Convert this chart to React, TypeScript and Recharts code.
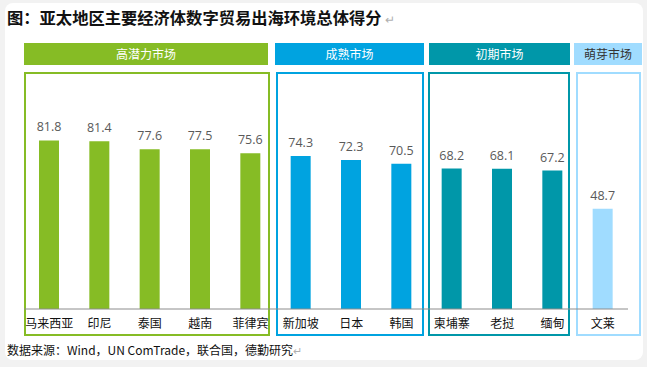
import { Bar, BarChart, Cell, LabelList, XAxis, YAxis } from 'recharts'

const countries = ['马来西亚', '印尼', '泰国', '越南', '菲律宾', '新加坡', '日本', '韩国', '柬埔寨', '老挝', '缅甸', '文莱']
const scores = [81.8, 81.4, 77.6, 77.5, 75.6, 74.3, 72.3, 70.5, 68.2, 68.1, 67.2, 48.7]
const groupNames = ['高潜力市场', '成熟市场', '初期市场', '萌芽市场']
const groupOf = [0, 0, 0, 0, 0, 1, 1, 1, 2, 2, 2, 3]

const groupColors = ['#86BC25', '#00A3E0', '#0097A9', '#A0DCFF']
const headerText = ['#ffffff', '#ffffff', '#ffffff', '#333333']
// header strip and outline box extents (px)
const headerBox = [
  [24, 268],
  [275, 424],
  [429, 570],
  [574, 642],
]
const outlineBox = [
  [24, 270],
  [276, 424],
  [428, 570],
  [576, 641],
]

const data = countries.map((name, i) => ({ name, score: scores[i], group: groupOf[i] }))

const cjk = '"Noto Sans CJK SC", "Noto Sans", sans-serif'

export default function App() {
  return (
    <div
      style={{
        position: 'fixed',
        left: 0,
        top: 0,
        width: 647,
        height: 367,
        background: '#f2f2f2',
        fontFamily: cjk,
      }}
    >
      <div
        style={{
          position: 'absolute',
          left: 5,
          top: 3,
          width: 638,
          height: 357,
          background: '#ffffff',
          borderRadius: 8,
        }}
      />
      <div
        style={{
          position: 'absolute',
          left: 7,
          top: 5,
          fontSize: 16.3,
          fontWeight: 700,
          color: '#111',
          whiteSpace: 'nowrap',
          lineHeight: '24px',
        }}
      >
        图：亚太地区主要经济体数字贸易出海环境总体得分
        <span style={{ fontWeight: 400, color: '#b0b0b0', fontSize: 12, marginLeft: 4 }}>↵</span>
      </div>

      {groupNames.map((g, i) => (
        <div
          key={g}
          style={{
            position: 'absolute',
            left: headerBox[i][0],
            top: 43,
            width: headerBox[i][1] - headerBox[i][0],
            height: 22,
            background: groupColors[i],
            color: headerText[i],
            fontSize: 12,
            lineHeight: '22px',
            textAlign: 'center',
          }}
        >
          {g}
        </div>
      ))}
      {groupNames.map((g, i) => (
        <div
          key={g + '-box'}
          style={{
            position: 'absolute',
            left: outlineBox[i][0],
            top: 72,
            width: outlineBox[i][1] - outlineBox[i][0],
            height: 264,
            boxSizing: 'border-box',
            border: `2px solid ${groupColors[i]}`,
          }}
        />
      ))}

      <div style={{ position: 'absolute', left: 0, top: 0 }}>
        <BarChart
          width={647}
          height={367}
          data={data}
          margin={{ top: 103, right: 19, left: 24, bottom: 28 }}
          barCategoryGap={0}
        >
          <XAxis
            dataKey="name"
            height={30}
            interval={0}
            tickLine={false}
            tickMargin={4}
            axisLine={{ stroke: '#8c8c8c', strokeWidth: 1 }}
            tick={{ fontSize: 12, fill: '#111', fontFamily: cjk }}
          />
          <YAxis hide domain={[0, 100]} />
          <Bar dataKey="score" barSize={20} isAnimationActive={false}>
            {data.map((d) => (
              <Cell key={d.name} fill={groupColors[d.group]} />
            ))}
            <LabelList
              dataKey="score"
              position="top"
              offset={9}
              fill="#595959"
              fontSize={12.5}
              fontFamily='"Open Sans", sans-serif'
            />
          </Bar>
        </BarChart>
      </div>

      <div
        style={{
          position: 'absolute',
          left: 7,
          top: 341,
          fontSize: 12,
          color: '#111',
          whiteSpace: 'nowrap',
          lineHeight: '18px',
        }}
      >
        数据来源：Wind，UN ComTrade，联合国，德勤研究
        <span style={{ color: '#b0b0b0', fontSize: 11 }}>↵</span>
      </div>
    </div>
  )
}
